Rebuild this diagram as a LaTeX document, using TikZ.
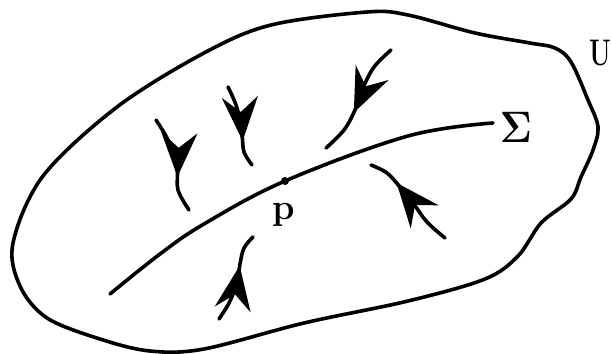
\RequirePackage{fix-cm}
\documentclass[tikz,border=0pt]{standalone}
\usetikzlibrary{arrows.meta,decorations.markings}
\tikzset{
  lw/.style={line width=3.6pt, line cap=round, line join=round},
  flow/.style={lw, postaction=decorate,
    decoration={markings, mark=at position #1 with {\arrow{Stealth[length=44pt,width=36pt,inset=15pt]}}}},
  lab/.style={inner sep=0pt}
}
\begin{document}
\begin{tikzpicture}[x=1pt,y=-1pt]
\useasboundingbox (0,0) rectangle (612,353);
% region U
\draw[lw] plot[smooth cycle, tension=0.55] coordinates {(367,12) (408,15) (475,33) (530,43) (555,48) (571,62) (588,100) (598,127) (593,150) (581,177) (571,199) (541,223) (518,256) (485,279) (408,301) (304,323) (204,349) (150,351) (100,339) (47,318) (20,286) (13,243) (43,176) (117,107) (204,53) (271,25)};
% Sigma
\draw[lw] plot[smooth, tension=0.6] coordinates {(110,294) (160,254) (204,224) (285,181) (408,136) (493,123)};
\coordinate (p) at (285,181);
\fill (p) circle (4pt);
% flow lines
\draw[flow=0.63] plot[smooth, tension=0.6] coordinates {(156,120) (169,142) (177,168) (178,190) (189,210)};
\draw[flow=0.68] plot[smooth, tension=0.6] coordinates {(228,87) (237,108) (242,135) (244,152) (252,165)};
\draw[flow=0.62] plot[smooth, tension=0.6] coordinates {(391,50) (374,67) (363,88) (355,110) (344,130) (326,148)};
\draw[flow=0.64] plot[smooth, tension=0.6] coordinates {(219,319) (229,303) (237,283) (240,264) (244,248) (253,237)};
\draw[flow=0.7] plot[smooth, tension=0.6] coordinates {(445,238) (427,222) (413,203) (400,187) (387,173) (371,165)};
% labels
\node[lab, font=\fontsize{36}{36}\selectfont\bfseries, anchor=base] (plab) at (284,219) {p};
\node[lab, font=\fontsize{44}{44}\selectfont, xscale=0.9] (sig) at (516,127) {$\mathbf{\Sigma}$};
\node[lab, font=\fontsize{37}{37}\selectfont\bfseries, xscale=0.68] (U) at (600,53) {U};
\end{tikzpicture}
\end{document}
